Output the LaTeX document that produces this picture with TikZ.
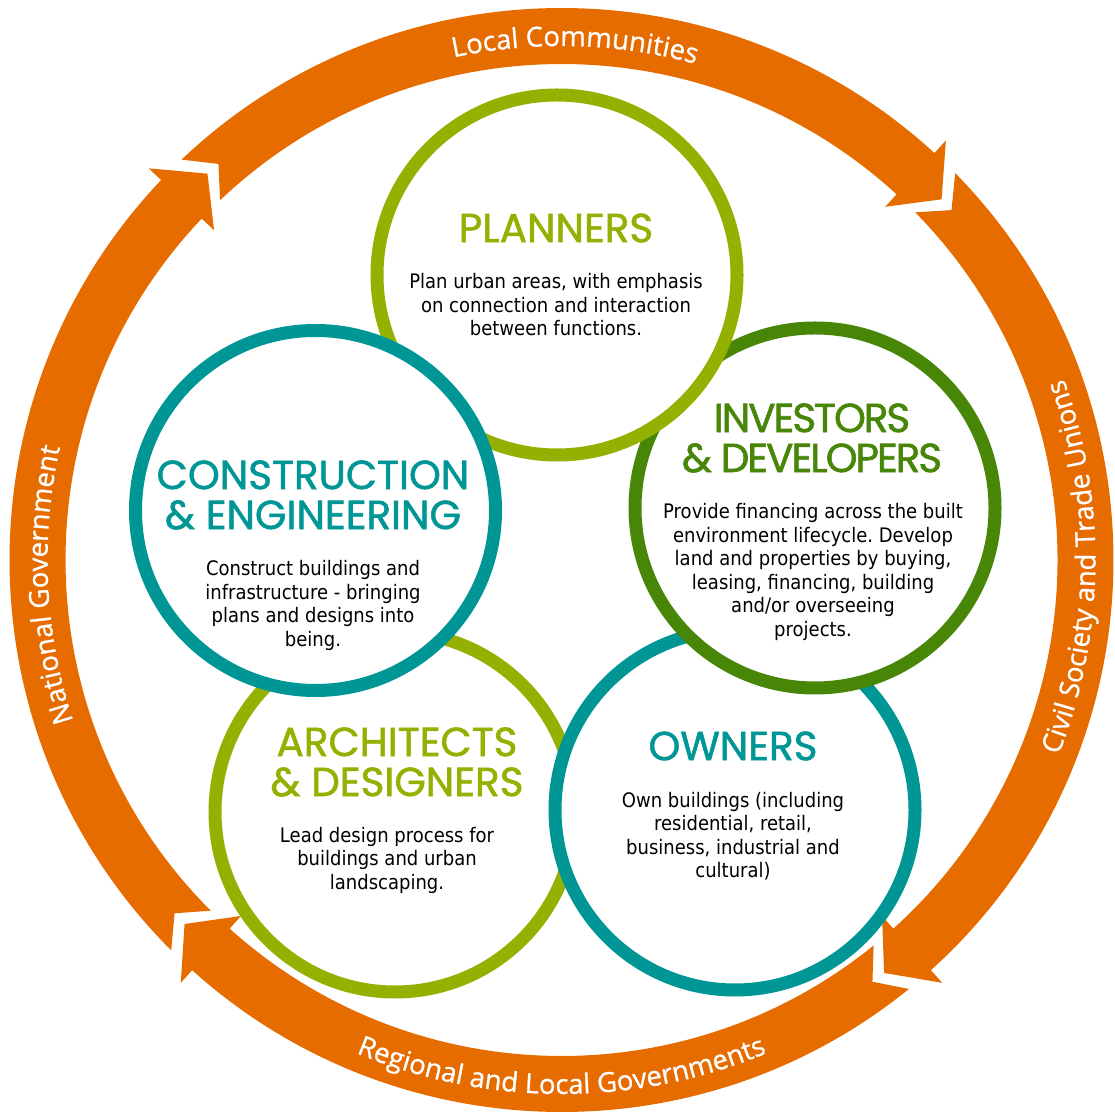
\documentclass[tikz,border=0pt]{standalone}
\usepackage{fontspec}
\usetikzlibrary{decorations.text}
\setmainfont{DejaVu Sans}[FakeStretch=0.9]
\newfontfamily\headfont{Poppins}[FakeBold=1.4]
\newfontfamily\headtight{Poppins}[LetterSpace=-5.0,FakeBold=1.4]
\newfontfamily\ringfont{Open Sans}[FakeBold=0.8]
\newcommand\ringtext{\ringfont\fontsize{27.5}{27.5}\selectfont}
\definecolor{ringorange}{RGB}{230,108,0}
\definecolor{lime}{RGB}{148,176,0}
\definecolor{teal}{RGB}{0,150,150}
\definecolor{leaf}{RGB}{72,134,8}
\frenchspacing
\begin{document}
\begin{tikzpicture}[x=1pt,y=1pt,
  band/.style={fill=ringorange},
  actor/.style={circle,line width=13pt,fill=white,minimum size=360pt,inner sep=0pt},
  head/.style={font=\headfont\fontsize{40.5}{40}\selectfont,align=center},
  blurb/.style={font=\fontsize{20}{23.5}\selectfont,align=center},
  ringlabel/.style={decorate,decoration={text along path,text align=center,text color=white}}]
\useasboundingbox (0,0) rectangle (1115,1113);
\begin{scope}[shift={(561.5,553)}]
\fill[band] (133.5:552) arc[start angle=133.5,end angle=47.5,radius=552] -- (47.5:569) -- (43.5:524) -- (47.5:479) -- (47.5:496) arc[start angle=47.5,end angle=133.5,radius=496] -- (130.9:524) -- cycle;
\fill[band] (44.5:552) arc[start angle=44.5,end angle=-48,radius=552] -- (-48:569) -- (-52:524) -- (-48:479) -- (-48:496) arc[start angle=-48,end angle=44.5,radius=496] -- (41.9:524) -- cycle;
\fill[band] (-51:552) arc[start angle=-51,end angle=-132,radius=552] -- (-132:569) -- (-136:524) -- (-132:479) -- (-132:496) arc[start angle=-132,end angle=-51,radius=496] -- (-53.6:524) -- cycle;
\fill[band] (-135:552) arc[start angle=-135,end angle=-223.5,radius=552] -- (-223.5:569) -- (-227.5:524) -- (-223.5:479) -- (-223.5:496) arc[start angle=-223.5,end angle=-135,radius=496] -- (-137.6:524) -- cycle;
\path[ringlabel,decoration={text={|\ringtext|Local Communities}}] (120.5:514) arc[start angle=120.5,end angle=56.5,radius=514];
\path[ringlabel,decoration={text={|\ringtext|Civil Society and Trade Unions}}] (-36:534) arc[start angle=-36,end angle=34.4,radius=534];
\path[ringlabel,decoration={text={|\ringtext|Regional and Local Governments}}] (225:534) arc[start angle=225,end angle=315,radius=534];
\path[ringlabel,decoration={text={|\ringtext|National Government}}] (217.8:514) arc[start angle=217.8,end angle=147.8,radius=514];
\end{scope}
\node[actor,draw=lime] (architects) at (395,301) {};
\node[actor,draw=teal] (owners) at (735,303) {};
\node[actor,draw=leaf] (investors) at (815,605) {};
\node[actor,draw=lime] (planners) at (557,838) {};
\node[actor,draw=teal] (construction) at (315.5,602.5) {};
\node[head,text=lime] (planhead) at (556,885) {PLANNERS};
\node[blurb] (plantext) at (556,808) {Plan urban areas, with emphasis\\on connection and interaction\\between functions.};
\node[head,text=teal] (conshead) at (313,618) {CONSTRUCTION\\\& ENGINEERING};
\node[blurb] (constext) at (313,507.5) {Construct buildings and\\infrastructure - bringing\\plans and designs into\\being.};
\node[head,font=\headtight\fontsize{40.5}{40}\selectfont,text=leaf] (invhead) at (812,675) {INVESTORS\\\& DEVELOPERS};
\node[blurb] (invtext) at (813,541) {Provide financing across the built\\environment lifecycle. Develop\\land and properties by buying,\\leasing, financing, building\\and/or overseeing\\projects.};
\node[head,text=lime] (archhead) at (397,351) {ARCHITECTS\\\& DESIGNERS};
\node[blurb] (archtext) at (387,253) {Lead design process for\\buildings and urban\\landscaping.};
\node[head,text=teal] (ownhead) at (733,367) {OWNERS};
\node[blurb] (owntext) at (733,277) {Own buildings (including\\residential, retail,\\business, industrial and\\cultural)};
\end{tikzpicture}
\end{document}
